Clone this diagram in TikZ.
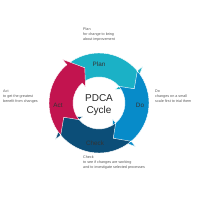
\documentclass[tikz,border=0pt]{standalone}
\usepackage{fontspec}
\setmainfont{Liberation Sans}
\definecolor{cplan}{HTML}{1BB1C6}
\definecolor{cdo}{HTML}{078BC9}
\definecolor{ccheck}{HTML}{0C4E78}
\definecolor{cact}{HTML}{C2144F}
\definecolor{ctxt}{HTML}{555555}
\begin{document}
\begin{tikzpicture}[x=1pt,y=1pt,
  seglabel/.style={font=\fontsize{6.3}{7}\selectfont, text=black!80},
  sidetext/.style={font=\fontsize{3.7}{5}\selectfont, text=ctxt, align=left, anchor=north west, inner sep=0pt},
  title/.style={font=\fontsize{10}{11.5}\selectfont, align=center, text=black!85}]
\useasboundingbox (0,0) rectangle (200,200);
\def\Ro{50}\def\Ri{26}\def\Rm{38}\def\hd{18}\def\flo{7}\def\fli{5}
\newcommand{\segment}[3]{% color, tail angle, head angle
  \fill[#1, draw=white, line width=0.4pt, line join=miter]
    (#2:\Ro) arc[start angle=#2, end angle=#3, radius=\Ro]
    -- (#3:\Ro+\flo) -- (#3-\hd:\Rm) -- (#3:\Ri-\fli) -- (#3:\Ri)
    arc[start angle=#3, end angle=#2, radius=\Ri]
    -- (#2-\hd:\Rm) -- cycle;}
\begin{scope}[shift={(99,97)}]
  \segment{cplan}{130}{40}
  \segment{cdo}{40}{-50}
  \segment{ccheck}{-50}{-140}
  \segment{cact}{-140}{-230}
  \node[title] (ttl) at (0,-2) {PDCA\\Cycle};
  \node[seglabel] (lplan) at (0,39) {Plan};
  \node[seglabel] (ldo) at (41,-2) {Do};
  \node[seglabel] (lcheck) at (-4,-40) {Check};
  \node[seglabel] (lact) at (-41,-2) {Act};
\end{scope}
\node[sidetext] (tplan) at (83,172.5) {Plan\\for change to bring\\about improvement};
\node[sidetext] (tdo) at (155,110.5) {Do\\changes on a small\\scale first to trial them};
\node[sidetext] (tcheck) at (83,44.5) {Check\\to see if changes are working\\and to investigate selected processes};
\node[sidetext] (tact) at (3,110.5) {Act\\to get the greatest\\benefit from changes};
\end{tikzpicture}
\end{document}
